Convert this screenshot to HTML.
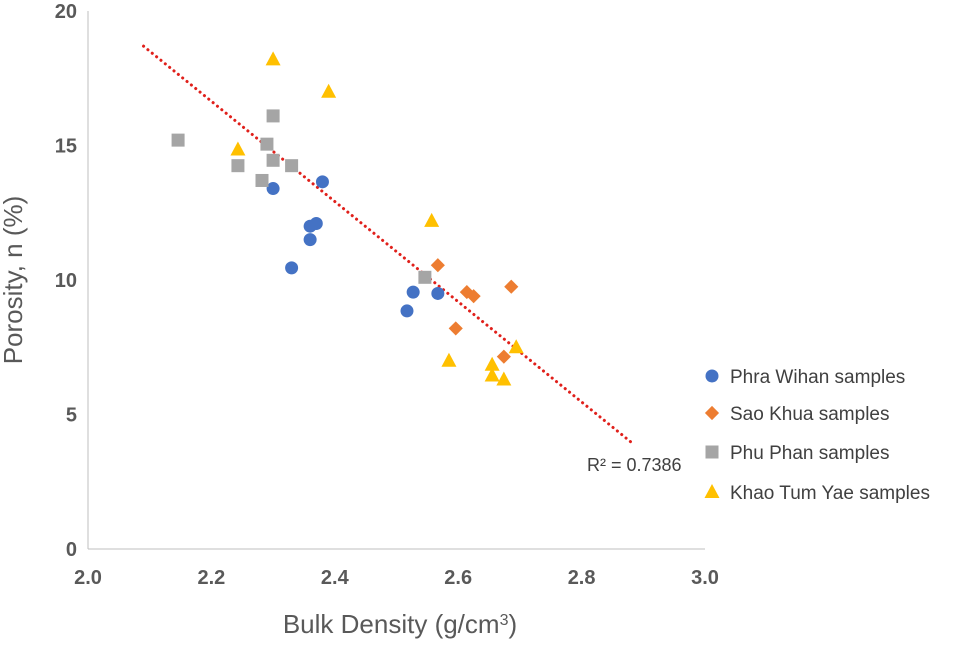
<!DOCTYPE html>
<html><head><meta charset="utf-8"><style>
body{margin:0;background:#fff;font-family:"Liberation Sans",sans-serif}
svg text{font-family:"Liberation Sans",sans-serif}
</style></head><body>
<svg id="chart" width="975" height="642">
<g id="axes"></g><g id="marks"></g>
</svg>
<script>
const xTicks=[2.0,2.2,2.4,2.6,2.8,3.0];
const yTicks=[0,5,10,15,20];
const seriesNames=["Phra Wihan samples","Sao Khua samples","Phu Phan samples","Khao Tum Yae samples"];
const phraX=[2.30,2.38,2.36,2.37,2.36,2.33,2.527,2.567,2.517];
const phraY=[13.4,13.65,12.0,12.1,11.5,10.45,9.55,9.5,8.85];
const saoX=[2.567,2.614,2.625,2.686,2.596,2.674];
const saoY=[10.55,9.55,9.4,9.75,8.2,7.15];
const phuX=[2.146,2.30,2.29,2.30,2.243,2.33,2.282,2.546];
const phuY=[15.2,16.1,15.05,14.45,14.25,14.25,13.7,10.1];
const khaoX=[2.30,2.39,2.243,2.557,2.585,2.655,2.655,2.674,2.694];
const khaoY=[18.2,17.0,14.85,12.2,7.0,6.85,6.45,6.3,7.5];
const trendA=57.63, trendB=-18.63, trendX=[2.09,2.885];
const r2Label="R² = 0.7386";
const X=v=>88+(v-2)*617, Y=v=>549-v*26.9;
const NS="http://www.w3.org/2000/svg";
const axes=document.getElementById('axes'), marks=document.getElementById('marks');
function mk(p,tag,at,txt){const e=document.createElementNS(NS,tag);for(const k in at)e.setAttribute(k,at[k]);if(txt!=null)e.textContent=txt;p.appendChild(e);return e;}
let e=mk(axes,'line',{x1:88,y1:11,x2:88,y2:549,stroke:'#bfbfbf','stroke-width':1});


e=mk(axes,'line',{x1:88,y1:549,x2:705,y2:549,stroke:'#bfbfbf','stroke-width':1});


xTicks.forEach(t=>{const el=mk(axes,'text',{x:X(t),y:584,'text-anchor':'middle','font-size':20,'font-weight':'bold',fill:'#595959'},t.toFixed(1));

});
yTicks.forEach(t=>{const el=mk(axes,'text',{x:77,y:Y(t)+7,'text-anchor':'end','font-size':20,'font-weight':'bold',fill:'#595959'},t);

});
e=mk(axes,'text',{x:400,y:633,'text-anchor':'middle','font-size':26,fill:'#595959'});
e.innerHTML='Bulk Density (g/cm<tspan baseline-shift="super" font-size="16">3</tspan>)';


e=mk(axes,'text',{x:0,y:0,transform:'translate(22,280) rotate(-90)','text-anchor':'middle','font-size':26,fill:'#595959'},'Porosity, n (%)');


e=mk(marks,'line',{x1:X(trendX[0]),y1:Y(trendA+trendB*trendX[0]),x2:X(trendX[1]),y2:Y(trendA+trendB*trendX[1]),stroke:'#e0201b','stroke-width':3,'stroke-dasharray':'0.1 5.5','stroke-linecap':'round'});


e=mk(marks,'text',{x:587,y:471,'font-size':18,fill:'#404040'},r2Label);


const colors=['#4472c4','#ed7d31','#a5a5a5','#ffc000'];
function marker(p,type,cx,cy){
 if(type===0) return mk(p,'circle',{cx,cy,r:6.5,fill:colors[0]});
 if(type===1) return mk(p,'rect',{x:cx-5,y:cy-5,width:10,height:10,fill:colors[1],transform:`rotate(45 ${cx} ${cy})`});
 if(type===2) return mk(p,'rect',{x:cx-6.5,y:cy-6.5,width:13,height:13,fill:colors[2]});
 return mk(p,'polygon',{points:`${cx},${cy-8} ${cx+7.5},${cy+6} ${cx-7.5},${cy+6}`,fill:colors[3]});
}
const allX=[phraX,saoX,phuX,khaoX], allY=[phraY,saoY,phuY,khaoY];
const slugs=['phra-wihan','sao-khua','phu-phan','khao-tum-yae'];
allX.forEach((xs,s)=>xs.forEach((v,i)=>{const m=marker(marks,s,X(v),Y(allY[s][i]));

}));
const legY=[376,413,452,492];
seriesNames.forEach((n,s)=>{const g=mk(marks,'g',{});


marker(g,s,712,legY[s]);
mk(g,'text',{x:730,y:legY[s]+7,'font-size':19,fill:'#404040'},n);});
</script>
</body></html>
